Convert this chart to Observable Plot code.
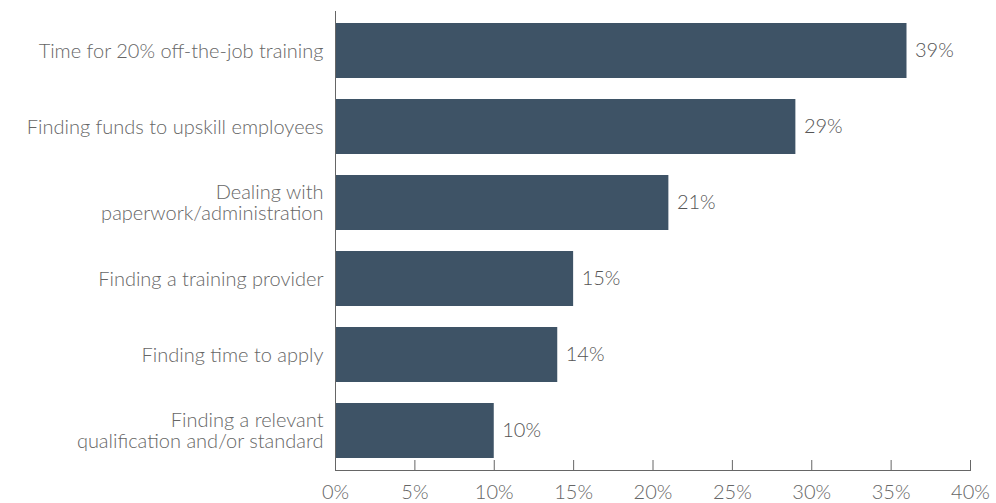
<!DOCTYPE html>
<html>
<head>
<meta charset="utf-8">
<script src="https://cdn.jsdelivr.net/npm/d3@7"></script>
<script src="https://cdn.jsdelivr.net/npm/@observablehq/plot@0.6"></script>
<style>
  html, body { margin: 0; padding: 0; background: #fff; }
  #chart svg { display: block; }
</style>
</head>
<body>
<div id="chart"></div>
<script>
const categories = [
  "Time for 20% off-the-job training",
  "Finding funds to upskill employees",
  "Dealing with\npaperwork/administration",
  "Finding a training provider",
  "Finding time to apply",
  "Finding a relevant\nqualification and/or standard"
];
const barValues = [36, 29, 21, 15, 14, 10];
const valueLabels = ["39%", "29%", "21%", "15%", "14%", "10%"];
const xTicks = [0, 5, 10, 15, 20, 25, 30, 35, 40];

const data = categories.map((c, i) => ({category: c, value: barValues[i], label: valueLabels[i]}));

const font = "Lato, 'Open Sans', sans-serif";
const plot = Plot.plot({
  width: 996,
  height: 503,
  marginLeft: 335,
  marginRight: 26,
  marginTop: 11,
  marginBottom: 33,
  style: {fontFamily: font, fontSize: "20px", color: "#666", background: "#fff", fontWeight: 300},
  x: {domain: [0, 40], axis: null},
  y: {domain: categories, paddingInner: 0.28, paddingOuter: 0.14, axis: null},
  marks: [
    Plot.barX(data, {x: "value", y: "category", fill: "#3E5366"}),
    Plot.text(data, {x: "value", y: "category", text: "label", textAnchor: "start", dx: 8, fill: "#555", fontSize: 20}),
    Plot.axisY({tickSize: 0, tickPadding: 12, fontSize: 20, lineHeight: 1.06, fill: "#666", label: null}),
    Plot.axisX({ticks: xTicks, tickSize: -10, stroke: "#666", tickFormat: () => "", label: null}),
    Plot.axisX({ticks: xTicks, tickSize: 0, tickPadding: 14, tickFormat: d => d + "%", fontSize: 20, fill: "#666", label: null}),
    Plot.ruleX([0], {stroke: "#666"}),
    Plot.frame({anchor: "bottom", stroke: "#666"})
  ]
});
document.getElementById("chart").appendChild(plot);
</script>
</body>
</html>
